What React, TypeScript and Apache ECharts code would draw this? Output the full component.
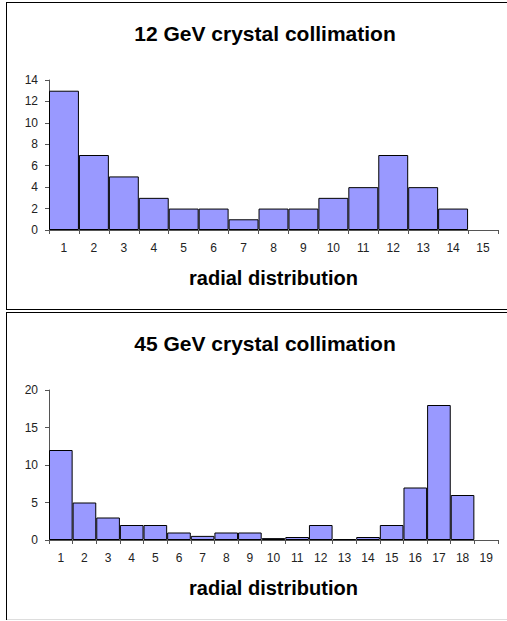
import React, { useEffect, useRef } from "react";
import * as echarts from "echarts";

const categories1 = ["1", "2", "3", "4", "5", "6", "7", "8", "9", "10", "11", "12", "13", "14", "15"];
const values1 = [13, 7, 5, 3, 2, 2, 1, 2, 2, 3, 4, 7, 4, 2, 0];
const categories2 = ["1", "2", "3", "4", "5", "6", "7", "8", "9", "10", "11", "12", "13", "14", "15", "16", "17", "18", "19"];
const values2 = [12, 5, 3, 2, 2, 1, 0.55, 1, 1, 0.25, 0.4, 2, 0.12, 0.4, 2, 7, 18, 6, 0];
const title1 = "12 GeV crystal collimation";
const title2 = "45 GeV crystal collimation";
const xName = "radial distribution";

const FONT = "'Liberation Sans', Arial, sans-serif";

export default function App() {
  const ref = useRef<HTMLDivElement>(null);
  useEffect(() => {
    if (!ref.current) return;
    const chart = echarts.init(ref.current, undefined, { renderer: "svg" });
    const axisLine = { show: true, lineStyle: { color: "#555", width: 1 } };
    const axisTick = { show: true, length: 4, lineStyle: { color: "#555" } };
    const label = { color: "#222", fontSize: 12, fontFamily: FONT };
    const xAxisCommon = (data: string[], gridIndex: number) => ({
      type: "category",
      gridIndex,
      data,
      boundaryGap: true,
      axisLine,
      axisTick: { ...axisTick, alignWithLabel: false, interval: 0 },
      axisLabel: { ...label, margin: 12, interval: 0 },
      name: xName,
      nameLocation: "middle",
      nameGap: 38,
      nameTextStyle: { fontSize: 20, fontWeight: "bold", color: "#000", fontFamily: FONT },
      splitLine: { show: false },
    });
    const barStyle = { color: "#9999FF", borderColor: "#000", borderWidth: 1 };
    const toData = (vals: number[]) =>
      vals.map((v) => (v === 0 ? { value: v, itemStyle: { borderWidth: 0 } } : v));
    const titleStyle = { fontSize: 21, fontWeight: "bold", color: "#000", fontFamily: FONT };
    chart.setOption({
      animation: false,
      backgroundColor: "#fff",
      title: [
        { text: title1, left: 260, top: 18, textAlign: "center", textStyle: titleStyle },
        { text: title2, left: 260, top: 328, textAlign: "center", textStyle: titleStyle },
      ],
      grid: [
        { left: 49, top: 80, width: 449, height: 150, containLabel: false },
        { left: 49, top: 390, width: 449, height: 150, containLabel: false },
      ],
      xAxis: [xAxisCommon(categories1, 0), xAxisCommon(categories2, 1)],
      yAxis: [
        {
          type: "value",
          gridIndex: 0,
          min: 0,
          max: 14,
          interval: 2,
          axisLine,
          axisTick,
          axisLabel: { ...label, margin: 11 },
          splitLine: { show: false },
        },
        {
          type: "value",
          gridIndex: 1,
          min: 0,
          max: 20,
          interval: 5,
          axisLine,
          axisTick,
          axisLabel: { ...label, margin: 11 },
          splitLine: { show: false },
        },
      ],
      series: [
        {
          type: "bar",
          xAxisIndex: 0,
          yAxisIndex: 0,
          data: toData(values1),
          barCategoryGap: "0%",
          itemStyle: barStyle,
        },
        {
          type: "bar",
          xAxisIndex: 1,
          yAxisIndex: 1,
          data: toData(values2),
          barCategoryGap: "0%",
          itemStyle: barStyle,
        },
      ],
      graphic: [
        { type: "line", shape: { x1: 6.5, y1: 2, x2: 6.5, y2: 310 }, style: { stroke: "#000", lineWidth: 1 } },
        { type: "line", shape: { x1: 6, y1: 2.5, x2: 507, y2: 2.5 }, style: { stroke: "#000", lineWidth: 1 } },
        { type: "line", shape: { x1: 6, y1: 309.5, x2: 507, y2: 309.5 }, style: { stroke: "#000", lineWidth: 1 } },
        { type: "line", shape: { x1: 6, y1: 312.5, x2: 507, y2: 312.5 }, style: { stroke: "#000", lineWidth: 1 } },
        { type: "line", shape: { x1: 6.5, y1: 312, x2: 6.5, y2: 620 }, style: { stroke: "#000", lineWidth: 1 } },
        { type: "line", shape: { x1: 7, y1: 619.5, x2: 507, y2: 619.5 }, style: { stroke: "#ddd", lineWidth: 1 } },
      ],
    });
    return () => chart.dispose();
  }, []);
  return (
    <div
      ref={ref}
      style={{ position: "fixed", left: 0, top: 0, width: 507, height: 621, background: "#fff" }}
    />
  );
}
